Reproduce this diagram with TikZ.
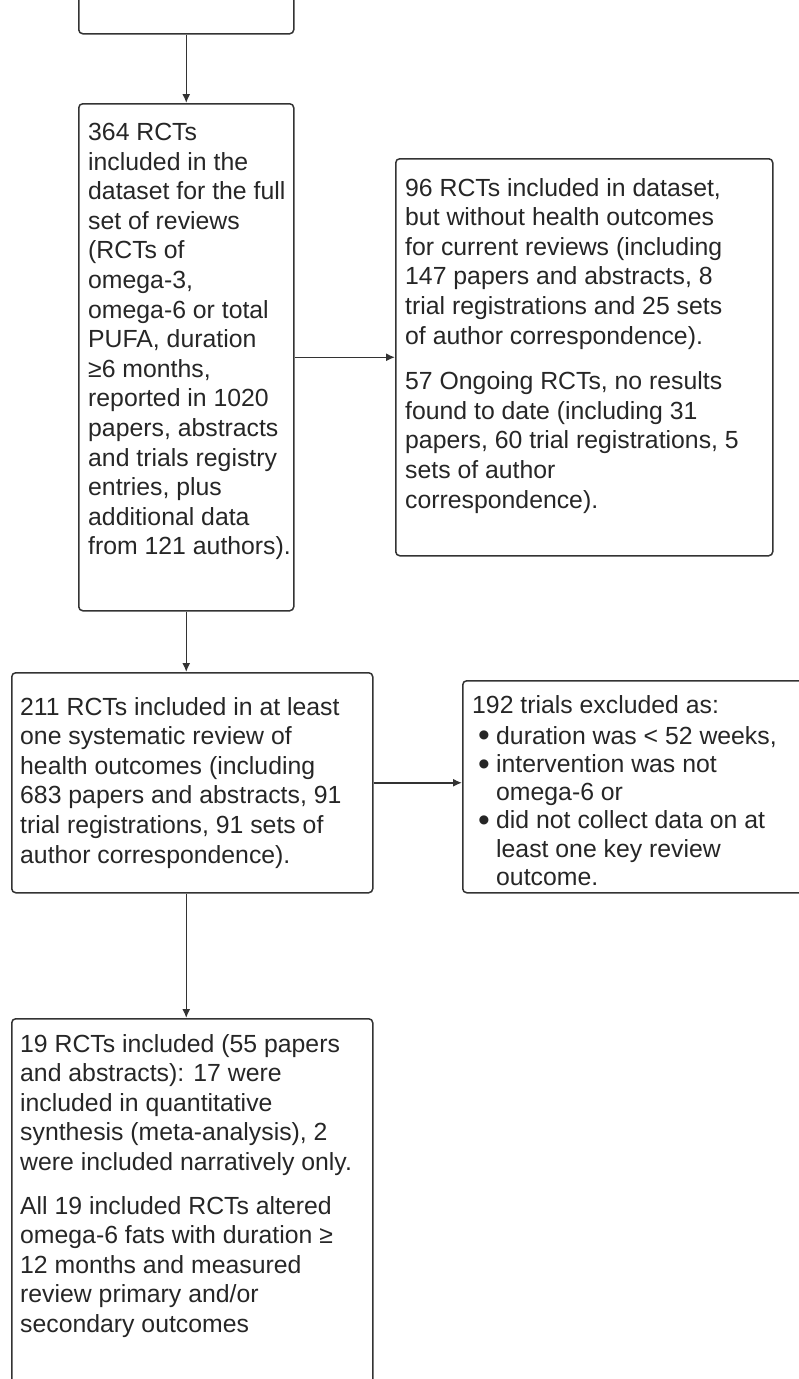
\documentclass[tikz,border=0pt]{standalone}
\usepackage{fontspec}
\setmainfont{Liberation Sans}
\usepackage{tikz}
\definecolor{linecolor}{gray}{0.2}
\colorlet{textcolor}{black!85}
\usetikzlibrary{
  arrows.meta,
}
\newcommand{\bigbullet}{\raisebox{-2.5pt}[0pt][0pt]{\scalebox{1.35}{•}}}

\begin{document}
\begin{tikzpicture}[x=1pt, y=-1pt, >={Latex[length=9pt,width=8pt]}]
	\tikzstyle{every node}=[font=\fontsize{24.8}{29.6}\selectfont, text=textcolor]
	\tikzstyle{box}=[draw=linecolor, line width=1.5pt, rounded corners=4pt, anchor=north west, inner sep=0pt]
	\tikzstyle{txt}=[anchor=north west, align=left, inner sep=0pt]
	\useasboundingbox (0,0) rectangle (799,1379);
	% boxes
	\node (search)[box, minimum width=215, minimum height=100] at (78,-67) {};
	\node (incl)[box, minimum width=215, minimum height=507] at (78,103) {};
	\node (nodata)[box, minimum width=377, minimum height=397] at (395,158) {};
	\node (rev)[box, minimum width=361, minimum height=220] at (11,672) {};
	\node (excl)[box, minimum width=380, minimum height=212] at (462,680) {};
	\node (sel)[box, minimum width=361, minimum height=420] at (11,1018) {};
	% texts
	\node (incltext)[txt] at (88,123) {364 RCTs\\ included in the\\ dataset for the full\\ set of reviews\\ (RCTs of\\ omega-3,\\ omega-6 or total\\ PUFA, duration\\ ≥6 months,\\ reported in 1020\\ papers, abstracts\\ and trials registry\\ entries, plus\\ additional data\\ from 121 authors).};
	\node (nodatatext)[txt] at (405,178) {96 RCTs included in dataset,\\ but without health outcomes\\ for current reviews (including\\ 147 papers and abstracts, 8\\ trial registrations and 25 sets\\ of author correspondence).\\[16pt]
		57 Ongoing RCTs, no results\\ found to date (including 31\\ papers, 60 trial registrations, 5\\ sets of author\\ correspondence).};
	\node (revtext)[txt] at (20,697) {211 RCTs included in at least\\ one systematic review of\\ health outcomes (including\\ 683 papers and abstracts, 91\\ trial registrations, 91 sets of\\ author correspondence).};
	\node (excltext)[txt, font=\fontsize{24.8}{28.2}\selectfont] at (472,695) {192 trials excluded as:\\[3pt]
		\hspace*{6pt}\makebox[18pt][l]{\bigbullet}duration was < 52 weeks,\\
		\hspace*{6pt}\makebox[18pt][l]{\bigbullet}intervention was not\\
		\hspace*{24pt}omega-6 or\\
		\hspace*{6pt}\makebox[18pt][l]{\bigbullet}did not collect data on at\\
		\hspace*{24pt}least one key review\\
		\hspace*{24pt}outcome.};
	\node (seltext)[txt] at (20,1034) {19 RCTs included (55 papers\\ and abstracts): 17 were\\ included in quantitative\\ synthesis (meta-analysis), 2\\ were included narratively only.\\[14pt]
		All 19 included RCTs altered\\ omega-6 fats with duration ≥\\ 12 months and measured\\ review primary and/or\\ secondary outcomes};
	% arrows
	\draw [->, linecolor, line width=1.5pt] (search) -- (incl);
	\draw [->, linecolor, line width=1.5pt] (incl) -- (nodata);
	\draw [->, linecolor, line width=1.5pt] (incl.south) -- (incl.south |- rev.north);
	\draw [->, linecolor, line width=1.5pt] (rev.east) -- (rev.east -| excl.west);
	\draw [->, linecolor, line width=1.5pt] (rev.south -| incl.south) -- (incl.south |- sel.north);
\end{tikzpicture}
\end{document}
